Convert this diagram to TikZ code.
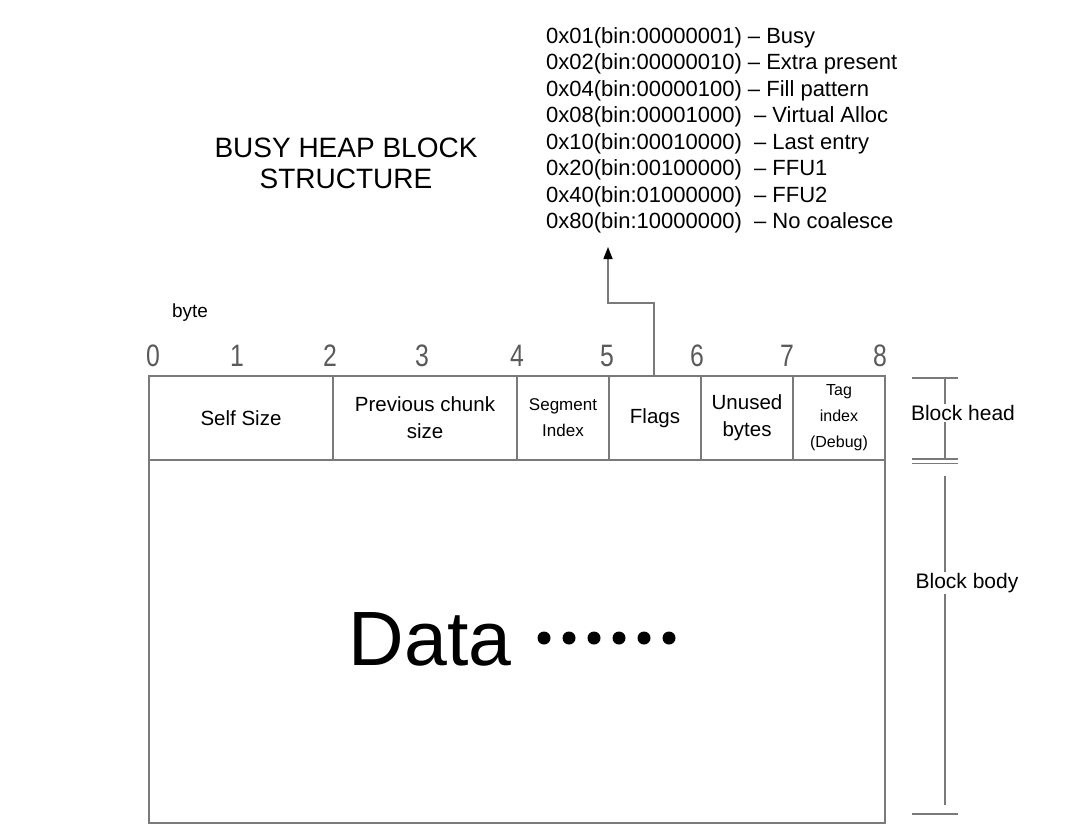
\documentclass[tikz,border=0pt]{standalone}
\usepackage{fontspec}
\setmainfont{Liberation Sans}
\usetikzlibrary{arrows.meta}
\definecolor{linegray}{HTML}{7A7A7A}
\definecolor{digitgray}{HTML}{5A5A5A}
\begin{document}
\begin{tikzpicture}[x=1pt,y=-1pt,
  line/.style={draw=linegray, line width=1.4pt},
  cell/.style={draw=linegray, line width=1.4pt, minimum height=84pt, inner sep=0pt, align=center, font=\fontsize{20.5}{27}\selectfont},
  digit/.style={text=digitgray, font=\fontsize{31}{31}\selectfont, xscale=0.8, inner sep=0pt},
  flag/.style={anchor=base west, font=\fontsize{22}{26}\selectfont, inner sep=0pt},
  lbl/.style={font=\fontsize{21}{26}\selectfont, inner sep=1pt}]
\useasboundingbox (0,0) rectangle (1066,838);

% title
\node[font=\fontsize{28}{31}\selectfont, align=center] (title) at (346,163) {BUSY HEAP BLOCK\\STRUCTURE};

% flag list
\node[flag] (f1) at (546,43) {0x01(bin:00000001) -- Busy};
\node[flag] (f2) at (546,69.5) {0x02(bin:00000010) -- Extra present};
\node[flag] (f3) at (546,96) {0x04(bin:00000100) -- Fill pattern};
\node[flag] (f4) at (546,122.5) {0x08(bin:00001000) \ -- Virtual Alloc};
\node[flag] (f5) at (546,149) {0x10(bin:00010000) \ -- Last entry};
\node[flag] (f6) at (546,175.5) {0x20(bin:00100000) \ -- FFU1};
\node[flag] (f7) at (546,202) {0x40(bin:01000000) \ -- FFU2};
\node[flag] (f8) at (546,228.5) {0x80(bin:10000000) \ -- No coalesce};

% byte ruler
\node[font=\fontsize{19}{20}\selectfont, inner sep=0pt] (byte) at (190,313) {byte};
\node[digit] (d0) at (153,356) {0};
\node[digit] (d1) at (237,356) {1};
\node[digit] (d2) at (330,356) {2};
\node[digit] (d3) at (422,356) {3};
\node[digit] (d4) at (517,356) {4};
\node[digit] (d5) at (607,356) {5};
\node[digit] (d6) at (697,356) {6};
\node[digit] (d7) at (787,356) {7};
\node[digit] (d8) at (880,356) {8};

% head cells
\node[cell, minimum width=184pt] (self) at (241,418) {Self Size};
\node[cell, minimum width=184pt] (prev) at (425,418) {Previous chunk\\size};
\node[cell, minimum width=92pt, font=\fontsize{17}{26}\selectfont] (seg) at (563,418) {Segment\\Index};
\node[cell, minimum width=92pt] (flags) at (655,418) {Flags};
\node[cell, minimum width=92pt] (unused) at (747,418) {Unused\\bytes};
\node[cell, minimum width=92pt, font=\fontsize{16}{26}\selectfont] (tag) at (839,418) {Tag\\index\\(Debug)};

% body
\node[draw=linegray, line width=1.4pt, minimum width=736pt, minimum height=363pt, inner sep=0pt] (body) at (517,641.5) {};
\node[font=\fontsize{77}{77}\selectfont, anchor=base, inner sep=0pt] (data) at (430,665) {Data};
\foreach \x in {544,569,594,619,644,669} \fill (\x,638) circle (6.5pt);

% flags arrow
\coordinate (turn1) at (654,303);
\coordinate (turn2) at (608,303);
\coordinate (tip) at (608,247);
\draw[line, -{Triangle[length=12pt,width=9pt,color=black,fill=black]}] (flags.north -| turn1) -- (turn1) -- (turn2) -- (tip);

% right dimension lines
\node[lbl] (bh) at (963,413) {Block head};
\node[lbl] (bb) at (967,583) {Block body};
\coordinate (htop) at (945,378);
\coordinate (hbot) at (945,459);
\coordinate (btop) at (945,476);
\coordinate (bbot) at (945,814);
\draw[line] (912,378) -- (958,378);
\draw[line] (912,459) -- (958,459);
\draw[line] (912,463.5) -- (958,463.5);
\draw[line] (912,814) -- (958,814);
\draw[line] (htop) -- (bh.north -| htop);
\draw[line] (bh.south -| htop) -- (hbot);
\draw[line] (btop) -- (bb.north -| btop);
\draw[line] (bb.south -| btop) -- (945,805);
\end{tikzpicture}
\end{document}
